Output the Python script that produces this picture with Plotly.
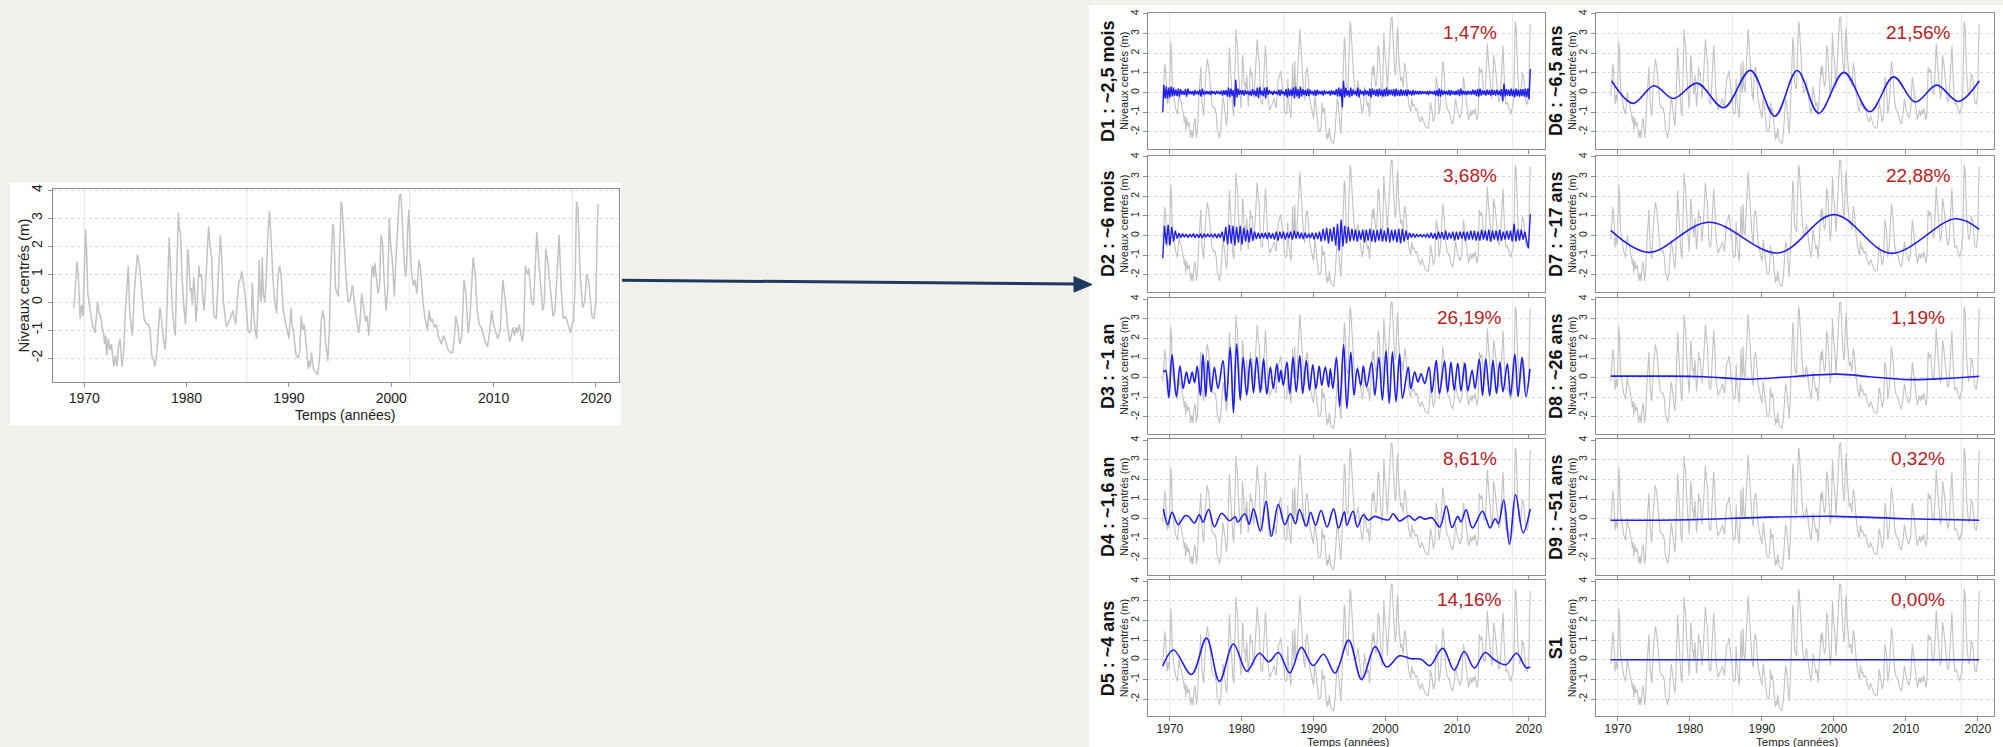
import numpy as np
import plotly.graph_objects as go

W, H = 2003, 747
FONT = "Liberation Sans, Arial, Helvetica, sans-serif"

# ---------------- data ----------------
# Centred groundwater level (m) versus time (decimal years)
raw_t = [1969.0, 1969.15, 1969.3, 1969.45, 1969.6, 1969.75, 1969.9, 1970.05, 1970.12, 1970.22,
         1970.35, 1970.55, 1970.8, 1971.05, 1971.3, 1971.45, 1971.6, 1971.8, 1971.9, 1972.0,
         1972.1, 1972.2, 1972.35, 1972.5, 1972.65, 1972.8, 1972.9, 1973.05, 1973.2, 1973.35,
         1973.5, 1973.7, 1973.85, 1974.0, 1974.15, 1974.3, 1974.45, 1974.7, 1974.9, 1975.05,
         1975.2, 1975.4, 1975.6, 1975.85, 1976.1, 1976.3, 1976.45, 1976.6, 1976.8, 1976.9,
         1977.1, 1977.25, 1977.4, 1977.55, 1977.7, 1977.9, 1978.0, 1978.15, 1978.3, 1978.4,
         1978.5, 1978.6, 1978.75, 1978.9, 1979.0, 1979.1, 1979.2, 1979.3, 1979.4, 1979.55,
         1979.7, 1979.9, 1980.0, 1980.1, 1980.2, 1980.35, 1980.45, 1980.55, 1980.7, 1980.8,
         1980.92, 1981.05, 1981.2, 1981.3, 1981.45, 1981.55, 1981.7, 1981.9, 1982.05, 1982.15,
         1982.3, 1982.45, 1982.6, 1982.7, 1982.9, 1983.05, 1983.2, 1983.3, 1983.45, 1983.6,
         1983.9, 1984.15, 1984.35, 1984.5, 1984.65, 1984.8, 1984.95, 1985.1, 1985.25, 1985.4,
         1985.55, 1985.7, 1985.85, 1986.0, 1986.15, 1986.3, 1986.42, 1986.55, 1986.7, 1986.85,
         1987.0, 1987.1, 1987.2, 1987.3, 1987.4, 1987.5, 1987.65, 1987.8, 1987.95, 1988.1,
         1988.2, 1988.35, 1988.5, 1988.65, 1988.8, 1988.92, 1989.1, 1989.25, 1989.45, 1989.6,
         1989.85, 1990.0, 1990.2, 1990.3, 1990.45, 1990.7, 1990.9, 1991.05, 1991.2, 1991.35,
         1991.5, 1991.7, 1991.9, 1992.0, 1992.1, 1992.2, 1992.4, 1992.6, 1992.8, 1993.0,
         1993.15, 1993.3, 1993.45, 1993.6, 1993.8, 1993.95, 1994.1, 1994.3, 1994.4, 1994.55,
         1994.7, 1994.82, 1994.95, 1995.1, 1995.2, 1995.4, 1995.6, 1995.8, 1996.0, 1996.2,
         1996.4, 1996.6, 1996.8, 1996.95, 1997.1, 1997.3, 1997.5, 1997.65, 1997.8, 1997.95,
         1998.1, 1998.2, 1998.3, 1998.4, 1998.55, 1998.7, 1998.85, 1999.0, 1999.15, 1999.3,
         1999.5, 1999.65, 1999.8, 1999.95, 2000.1, 2000.3, 2000.45, 2000.6, 2000.8, 2000.95,
         2001.1, 2001.25, 2001.4, 2001.5, 2001.6, 2001.72, 2001.85, 2002.0, 2002.15, 2002.3,
         2002.5, 2002.7, 2002.85, 2003.1, 2003.3, 2003.55, 2003.7, 2003.85, 2004.0, 2004.2,
         2004.4, 2004.6, 2004.9, 2005.1, 2005.3, 2005.55, 2005.8, 2006.0, 2006.15, 2006.3,
         2006.5, 2006.7, 2006.9, 2007.1, 2007.3, 2007.5, 2007.7, 2008.0, 2008.2, 2008.4,
         2008.6, 2008.9, 2009.15, 2009.4, 2009.6, 2009.8, 2010.0, 2010.2, 2010.4, 2010.65,
         2010.9, 2011.15, 2011.4, 2011.6, 2011.9, 2012.05, 2012.2, 2012.35, 2012.5, 2012.8,
         2012.95, 2013.1, 2013.3, 2013.45, 2013.7, 2013.9, 2014.1, 2014.22, 2014.4, 2014.6,
         2014.8, 2014.95, 2015.1, 2015.3, 2015.55, 2015.8, 2016.0, 2016.2, 2016.4, 2016.6,
         2016.8, 2017.0, 2017.2, 2017.5, 2017.65, 2017.8, 2017.95, 2018.1, 2018.25, 2018.45,
         2018.7, 2018.9, 2019.1, 2019.3, 2019.45, 2019.6, 2019.8, 2020.0, 2020.1, 2020.2]
raw_v = [-0.2, 0.6, 1.45, 0.8, -0.6, -0.1, -0.5, 1.6, 2.6, 2.0,
         0.3, -0.2, -0.8, -1.1, 0.0, -0.4, -0.5, -1.0, -1.1, -1.5,
         -1.2, -1.9, -1.3, -1.7, -1.5, -2.0, -2.3, -1.9, -2.3, -1.6,
         -1.3, -2.3, -1.8, -0.5, 0.6, 1.3, -0.4, -1.2, 0.4, 1.0,
         1.7, 1.3, 0.5, -0.6, -0.8, -0.8, -1.1, -1.9, -2.1, -2.3,
         -1.8, -1.0, -0.2, -0.6, -1.2, -1.7, -1.2, 0.6, 2.3, 1.5,
         0.7, -0.2, -0.8, -1.2, 0.5, 2.5, 3.2, 2.6, 2.5, 1.0,
         0.0, -0.8, 0.1, 1.9, 1.6, 0.4, 0.5, -0.1, 0.9, 0.4,
         -0.7, 0.0, 1.3, 0.9, 1.0, 0.3, -0.3, 0.9, 1.9, 2.7,
         2.0, 1.6, 0.0, -0.5, -0.6, 0.6, 1.6, 2.4, 1.5, 0.0,
         -0.9, -0.7, -0.5, -0.3, -0.5, -0.8, 0.0, 0.7, 0.8, 1.1,
         0.7, 0.3, -0.3, -1.0, -1.1, -1.0, 0.7, -0.4, -1.0, -1.3,
         0.2, 1.5, 0.2, 0.0, 1.6, 0.3, 0.0, 1.0, 2.5, 3.25,
         2.6, 1.5, 0.5, -0.1, -0.4, 0.9, 1.3, 0.9, -0.3, -0.6,
         -1.0, -1.3, -0.2, -0.8, -1.1, -1.9, -2.0, -1.8, -0.5, -1.0,
         -0.8, -1.7, -2.4, -2.1, -2.3, -1.8, -2.4, -2.5, -2.6, -2.0,
         -0.7, -0.3, -0.6, -1.5, -2.1, -1.0, 1.3, 2.8, 2.5, 0.5,
         0.3, 0.2, 1.9, 3.6, 3.4, 2.0, 0.8, 0.0, 0.1, 0.6,
         -0.1, -0.6, -1.1, -0.7, 0.3, -0.2, -0.7, -0.5, -1.2, -0.4,
         1.2, 1.3, 0.9, 1.4, 0.7, 0.3, 0.6, 2.4, 2.1, 0.8,
         -0.3, 0.4, 3.0, 2.0, 1.5, 0.2, 1.5, 2.6, 3.8, 3.85,
         2.5, 1.5, 0.9, 1.3, 2.6, 3.3, 2.0, 1.0, 0.6, 0.8,
         0.3, 1.5, 1.2, 0.0, -0.6, -1.0, -0.3, -0.7, -0.6, -0.9,
         -0.8, -1.2, -1.5, -1.2, -1.4, -1.7, -1.8, -1.8, -1.3, -0.5,
         -0.9, -1.5, -1.2, 0.8, 0.3, -1.1, -0.5, 1.6, 1.0, -0.3,
         -0.8, -1.0, -1.4, -1.6, -1.1, -0.3, -0.8, -1.1, -1.3, -1.0,
         0.8, 0.0, -1.0, -1.4, -0.9, -1.2, -0.9, -1.1, -0.8, -1.4,
         -1.0, 1.3, 1.0, 1.2, 0.0, -0.1, 1.3, 2.5, 1.5, 0.5,
         -0.3, 0.0, 1.9, 1.4, 0.3, -0.5, -0.3, 1.3, 2.4, 0.5,
         -0.6, -0.5, -0.7, -1.1, -0.8, -0.7, 0.5, 3.6, 3.3, 1.0,
         -0.2, 0.0, 1.0, 0.7, 0.0, -0.5, -0.6, 0.0, 2.3, 3.5]

# D1 (~2.5 months): values every ~2 months, 1969.0 -> 2020.2
d1_v = [-1.0, 0.4, -0.3, 0.3, -0.3, 0.25,
        -0.25, 0.3, -0.2, 0.25, -0.15, 0.15,
        -0.18, 0.2, -0.2, 0.18, -0.1, 0.08,
        -0.12, 0.18, -0.2, 0.2, -0.08, 0.08,
        -0.08, 0.08, -0.15, 0.12, -0.08, 0.08,
        -0.12, 0.15, -0.2, 0.2, -0.12, 0.08,
        -0.08, 0.08, -0.08, 0.08, -0.12, 0.1,
        -0.06, 0.06, -0.1, 0.1, -0.06, 0.06,
        -0.08, 0.1, -0.15, 0.12, -0.12, 0.12,
        -0.2, 0.25, -0.25, 0.2, -0.15, 0.12,
        -0.7, 0.65, -0.25, 0.2, -0.12, 0.12,
        -0.1, 0.12, -0.15, 0.12, -0.08, 0.08,
        -0.12, 0.1, -0.18, 0.18, -0.12, 0.1,
        -0.2, 0.25, -0.28, 0.28, -0.12, 0.1,
        -0.18, 0.25, -0.3, 0.28, -0.12, 0.12,
        -0.06, 0.06, -0.12, 0.1, -0.06, 0.06,
        -0.12, 0.15, -0.18, 0.15, -0.08, 0.06,
        -0.15, 0.18, -0.25, 0.2, -0.18, 0.15,
        -0.18, 0.25, -0.3, 0.3, -0.2, 0.18,
        -0.3, 0.3, -0.2, 0.18, -0.12, 0.12,
        -0.18, 0.2, -0.18, 0.15, -0.08, 0.08,
        -0.15, 0.12, -0.18, 0.15, -0.1, 0.08,
        -0.08, 0.08, -0.15, 0.12, -0.08, 0.06,
        -0.06, 0.08, -0.15, 0.12, -0.1, 0.08,
        -0.12, 0.18, -0.2, 0.25, -0.2, 0.2,
        -0.75, 0.6, -0.25, 0.25, -0.15, 0.12,
        -0.25, 0.25, -0.18, 0.15, -0.1, 0.08,
        -0.18, 0.25, -0.25, 0.15, -0.08, 0.08,
        -0.15, 0.15, -0.1, 0.1, -0.18, 0.2,
        -0.25, 0.2, -0.12, 0.15, -0.18, 0.18,
        -0.2, 0.2, -0.15, 0.12, -0.2, 0.18,
        -0.2, 0.25, -0.18, 0.15, -0.12, 0.15,
        -0.15, 0.18, -0.2, 0.2, -0.15, 0.12,
        -0.18, 0.18, -0.15, 0.12, -0.15, 0.15,
        -0.18, 0.15, -0.1, 0.1, -0.15, 0.12,
        -0.12, 0.1, -0.08, 0.08, -0.1, 0.08,
        -0.08, 0.08, -0.06, 0.06, -0.08, 0.08,
        -0.12, 0.1, -0.06, 0.06, -0.1, 0.1,
        -0.15, 0.12, -0.18, 0.2, -0.2, 0.15,
        -0.12, 0.1, -0.08, 0.08, -0.12, 0.12,
        -0.15, 0.12, -0.1, 0.08, -0.12, 0.1,
        -0.12, 0.15, -0.18, 0.2, -0.12, 0.1,
        -0.1, 0.08, -0.12, 0.1, -0.08, 0.08,
        -0.12, 0.15, -0.1, 0.12, -0.18, 0.18,
        -0.2, 0.2, -0.15, 0.12, -0.1, 0.1,
        -0.15, 0.15, -0.12, 0.12, -0.15, 0.15,
        -0.12, 0.12, -0.15, 0.15, -0.12, 0.1,
        -0.15, 0.18, -0.45, 0.45, -0.2, 0.18,
        -0.15, 0.15, -0.18, 0.2, -0.18, 0.15,
        -0.25, 0.2, -0.18, 0.15, -0.2, 0.18,
        -0.18, 0.18, -0.2, 0.2, -0.25, 0.2,
        -0.35, 1.2]

# D2 (~6 months): values every quarter, 1969.0 -> 2020.2
d2_v = [-1.15, 0.5, -0.45, 0.55,
        -0.5, 0.45, -0.3, 0.25,
        -0.15, 0.12, -0.1, 0.1,
        -0.08, 0.08, -0.1, 0.08,
        -0.08, 0.1, -0.1, 0.08,
        -0.1, 0.1, -0.12, 0.1,
        -0.08, 0.08, -0.06, 0.06,
        -0.08, 0.1, -0.12, 0.1,
        -0.1, 0.2, -0.3, 0.45,
        -0.45, 0.55, -0.4, 0.5,
        -0.5, 0.45, -0.35, 0.5,
        -0.45, 0.4, -0.3, 0.3,
        -0.35, 0.4, -0.25, 0.2,
        -0.18, 0.15, -0.15, 0.12,
        -0.12, 0.15, -0.18, 0.15,
        -0.15, 0.12, -0.2, 0.2,
        -0.25, 0.2, -0.15, 0.2,
        -0.2, 0.15, -0.12, 0.2,
        -0.2, 0.25, -0.15, 0.2,
        -0.15, 0.15, -0.18, 0.15,
        -0.12, 0.1, -0.12, 0.15,
        -0.2, 0.15, -0.18, 0.2,
        -0.3, 0.35, -0.25, 0.4,
        -0.4, 0.35, -0.3, 0.45,
        -0.5, 0.6, -0.75, 0.8,
        -0.55, 0.5, -0.4, 0.45,
        -0.3, 0.35, -0.25, 0.3,
        -0.3, 0.25, -0.2, 0.3,
        -0.35, 0.3, -0.25, 0.35,
        -0.3, 0.3, -0.35, 0.3,
        -0.25, 0.35, -0.3, 0.25,
        -0.3, 0.4, -0.35, 0.3,
        -0.25, 0.3, -0.35, 0.35,
        -0.4, 0.35, -0.3, 0.25,
        -0.2, 0.15, -0.1, 0.1,
        -0.08, 0.06, -0.05, 0.05,
        -0.06, 0.05, -0.08, 0.1,
        -0.12, 0.15, -0.15, 0.12,
        -0.2, 0.2, -0.15, 0.18,
        -0.2, 0.25, -0.2, 0.15,
        -0.15, 0.2, -0.25, 0.2,
        -0.2, 0.2, -0.15, 0.2,
        -0.25, 0.2, -0.2, 0.25,
        -0.2, 0.25, -0.25, 0.2,
        -0.25, 0.3, -0.2, 0.25,
        -0.25, 0.3, -0.3, 0.25,
        -0.2, 0.25, -0.25, 0.3,
        -0.25, 0.2, -0.2, 0.25,
        -0.2, 0.25, -0.3, 0.6,
        -0.3, 0.3, -0.25, 0.3,
        -0.2, 0.2, -0.3, -0.65,
        1.1]

# D3 (~1 year): successive peaks and troughs
d3_t = [1969.1, 1969.4, 1969.85, 1970.3, 1970.9, 1971.4, 1971.85, 1972.3, 1972.7, 1973.1,
        1973.45, 1973.8, 1974.25, 1974.6, 1975.0, 1975.3, 1975.75, 1976.2, 1976.7, 1977.4,
        1977.85, 1978.4, 1978.85, 1979.3, 1979.8, 1980.2, 1980.7, 1981.2, 1981.65, 1982.1,
        1982.6, 1983.05, 1983.5, 1984.0, 1984.4, 1984.9, 1985.2, 1985.45, 1985.8, 1986.3,
        1986.7, 1987.15, 1987.6, 1988.1, 1988.5, 1989.0, 1989.45, 1989.9, 1990.35, 1990.8,
        1991.15, 1991.65, 1992.1, 1992.35, 1992.7, 1993.2, 1993.65, 1994.2, 1994.65, 1995.2,
        1995.65, 1996.1, 1996.6, 1996.95, 1997.4, 1998.1, 1998.55, 1999.1, 1999.6, 2000.1,
        2000.55, 2001.0, 2001.5, 2002.0, 2002.4, 2003.2, 2003.55, 2004.1, 2004.55, 2005.0,
        2005.5, 2006.1, 2006.5, 2007.1, 2007.55, 2008.25, 2008.7, 2009.15, 2009.6, 2010.1,
        2010.55, 2011.1, 2011.5, 2012.1, 2012.5, 2013.1, 2013.55, 2014.0, 2014.55, 2015.0,
        2015.5, 2015.95, 2016.4, 2017.0, 2017.45, 2018.05, 2018.5, 2019.05, 2019.6, 2020.15]
d3_v = [0.28, 0.37, -1.02, 1.17, -0.97, 0.59, -0.55, 0.28, -0.3, 0.28,
        -0.25, 0.58, -0.9, 1.2, -0.97, 0.87, -0.72, 0.53, -0.55, 0.87,
        -1.2, 1.55, -1.78, 1.72, -1.14, 1.04, -0.9, 0.95, -0.77, 1.04,
        -0.75, 0.95, -0.84, 0.54, -0.55, 0.7, -0.22, 0.37, -0.39, 0.79,
        -0.8, 1.04, -0.72, 1.12, -0.8, 0.87, -0.64, 0.65, -0.55, 0.59,
        -0.39, 0.54, -0.47, 0.45, -0.55, 1.04, -1.47, 1.68, -1.56, 1.29,
        -0.9, 0.45, -0.39, 0.59, -0.47, 0.79, -0.9, 1.04, -1.14, 1.37,
        -1.3, 1.32, -1.22, 1.2, -1.05, 0.54, -0.55, 0.28, -0.22, 0.2,
        -0.3, 0.54, -0.75, 0.87, -0.8, 0.84, -0.72, 0.79, -0.64, 0.75,
        -0.67, 0.75, -0.67, 0.37, -0.55, 0.95, -0.9, 0.95, -0.92, 0.87,
        -0.8, 0.79, -0.72, 0.7, -0.9, 1.2, -0.97, 1.04, -0.97, 0.45]

# D4 (~1.6 year)
d4_t = [1969.1, 1969.7, 1970.3, 1971.15, 1972.1, 1972.6, 1973.4, 1974.1, 1974.6, 1975.4,
        1976.2, 1977.2, 1978.3, 1979.1, 1979.45, 1980.45, 1981.05, 1981.65, 1982.6, 1983.4,
        1984.15, 1985.1, 1986.0, 1986.8, 1987.5, 1988.05, 1989.0, 1989.6, 1990.3, 1991.05,
        1991.9, 1992.8, 1993.5, 1994.3, 1994.65, 1995.5, 1996.1, 1996.95, 1997.65, 1998.5,
        1999.5, 2000.5, 2001.1, 2002.0, 2003.3, 2004.1, 2004.8, 2005.5, 2006.5, 2007.6,
        2008.5, 2009.3, 2010.1, 2010.55, 2011.25, 2012.15, 2013.55, 2014.6, 2015.3, 2015.75,
        2016.5, 2017.3, 2018.15, 2019.2, 2020.2]
d4_v = [0.5, -0.3, 0.33, -0.3, 0.15, 0.12, -0.22, 0.2, -0.17, 0.47,
        -0.42, 0.28, -0.1, 0.1, -0.17, 0.25, -0.28, 0.5, -0.63, 0.88,
        -0.9, 0.73, -0.3, 0.25, -0.25, 0.47, -0.38, 0.33, -0.33, 0.42,
        -0.42, 0.5, -0.47, 0.35, -0.33, 0.38, -0.42, 0.2, -0.08, 0.12,
        0.0, -0.05, 0.25, -0.12, 0.15, -0.08, 0.1, -0.02, 0.05, -0.42,
        0.65, -0.45, 0.12, -0.17, 0.45, -0.47, 0.38, -0.47, 0.0, -0.25,
        0.95, -1.3, 1.22, -0.72, 0.5]

# D5 (~4 years)
d5_t = [1969.0, 1970.5, 1973.0, 1975.1, 1976.9, 1978.85, 1980.7, 1982.45, 1983.8, 1985.1,
        1986.7, 1988.3, 1989.95, 1991.4, 1993.0, 1994.9, 1996.7, 1998.6, 2000.2, 2002.0,
        2003.6, 2005.0, 2006.2, 2008.0, 2009.6, 2011.0, 2012.4, 2013.9, 2015.2, 2016.8,
        2018.3, 2019.6, 2020.2]
d5_v = [-0.33, 0.5, -0.75, 1.1, -1.1, 0.8, -0.58, 0.33, -0.1, 0.37,
        -0.67, 0.63, -0.3, 0.28, -0.67, 1.0, -1.0, 0.67, -0.37, 0.2,
        0.05, 0.03, -0.3, 0.58, -0.53, 0.42, -0.42, 0.37, 0.0, -0.25,
        0.33, -0.4, -0.37]

# D6 (~6.5 years)
d6_t = [1969.1, 1972.1, 1975.0, 1977.7, 1981.0, 1984.7, 1988.4, 1991.8, 1994.9, 1997.9,
        2001.4, 2005.0, 2008.3, 2011.3, 2014.3, 2017.3, 2020.2]
d6_v = [0.6, -0.55, 0.35, -0.3, 0.48, -0.77, 1.13, -1.2, 1.12, -1.05,
        1.03, -0.97, 0.8, -0.48, 0.38, -0.45, 0.6]

# D7 (~17 years)
d7_t = [1969.0, 1974.3, 1982.6, 1992.3, 2000.0, 2007.9, 2016.9, 2020.2]
d7_v = [0.27, -0.85, 0.68, -0.88, 1.07, -0.9, 0.86, 0.32]

# D8 (~26 years)
d8_t = [1969.0, 1976.0, 1982.0, 1988.0, 1994.0, 2000.5, 2005.0, 2010.5, 2016.0, 2020.2]
d8_v = [0.08, 0.08, 0.05, -0.08, 0.05, 0.18, 0.05, -0.1, -0.03, 0.07]

# D9 (~51 years)
d9_t = [1969.0, 1980.0, 1990.0, 2000.0, 2010.0, 2020.2]
d9_v = [-0.08, -0.05, 0.07, 0.12, 0.0, -0.08]

# S1 (smooth residual)
s1_t = [1969.0, 2020.2]
s1_v = [0.0, 0.0]

panel_titles = ["D1 : ~2,5 mois", "D2 : ~6 mois", "D3 : ~1 an", "D4 : ~1,6 an", "D5 : ~4 ans",
                "D6 : ~6,5 ans", "D7 : ~17 ans", "D8 : ~26 ans", "D9 : ~51 ans", "S1"]
panel_shares = ["1,47%", "3,68%", "26,19%", "8,61%", "14,16%",
                "21,56%", "22,88%", "1,19%", "0,32%", "0,00%"]

year_ticks = [1970, 1980, 1990, 2000, 2010, 2020]
level_ticks = [-2, -1, 0, 1, 2, 3, 4]
grid_years = [1970, 1985.9, 2001.8, 2017.7]

d1_t = list(np.linspace(1969.0, 2020.2, len(d1_v)))
d2_t = list(np.linspace(1969.0, 2020.2, len(d2_v)))
components = [(d1_t, d1_v), (d2_t, d2_v), (d3_t, d3_v), (d4_t, d4_v), (d5_t, d5_v),
              (d6_t, d6_v), (d7_t, d7_v), (d8_t, d8_v), (d9_t, d9_v), (s1_t, s1_v)]
# the two fastest details are drawn as raw polylines, the others smoothed
line_shapes = ["linear", "linear"] + ["spline"] * 8

# ---------------- layout geometry (pixels) ----------------
X_RANGE = [1966.95, 2022.25]
Y_RANGE = [-2.87, 4.05]
LEFT_BOX = (53, 619, 185, 380)
COL_X = [(1148, 1545), (1596, 1994)]
ROW_TOP = [8, 152, 295, 437, 579]
ROW_H = 137

BOX_COL = "#8c8c8c"
GRAY_LINE = "#c2c2c2"
BLUE = "#1f1fe6"
RED = "#b3221f"


def fx(x):
    return x / W


def fy(y):
    return 1 - y / H


fig = go.Figure()
layout_axes = {}
shapes = []
annotations = []


def add_axes(k, box, show_xlabels, xfont, yfont, label_shift):
    x0, x1, top, bottom = box
    xn = "xaxis" if k == 1 else f"xaxis{k}"
    yn = "yaxis" if k == 1 else f"yaxis{k}"
    xa = "x" if k == 1 else f"x{k}"
    ya = "y" if k == 1 else f"y{k}"
    layout_axes[xn] = dict(
        domain=[fx(x0), fx(x1)], anchor=ya, range=X_RANGE, tickmode="array",
        tickvals=year_ticks, ticktext=[str(v) for v in year_ticks],
        showticklabels=show_xlabels, ticks="outside", ticklen=4, tickcolor=BOX_COL,
        ticklabelstandoff=label_shift,
        showline=True, mirror=True, linecolor=BOX_COL, linewidth=1,
        showgrid=False, zeroline=False, tickfont=dict(family=FONT, size=xfont, color="#222"),
    )
    layout_axes[yn] = dict(
        domain=[fy(bottom), fy(top)], anchor=xa, range=Y_RANGE, tickmode="array",
        tickvals=level_ticks, ticktext=[str(v) for v in level_ticks], tickangle=-90,
        ticks="outside", ticklen=4, tickcolor=BOX_COL,
        showline=True, mirror=True, linecolor=BOX_COL, linewidth=1,
        showgrid=True, griddash="dot", gridcolor="#d9d9d9", gridwidth=1, zeroline=False,
        tickfont=dict(family=FONT, size=yfont, color="#222"),
    )
    for gy in grid_years:
        shapes.append(dict(type="line", xref=xa, yref=f"{ya} domain", x0=gy, x1=gy, y0=0, y1=1,
                           line=dict(color="#e6e6e6", width=1), layer="below"))
    return xa, ya


# background panels
shapes.append(dict(type="rect", xref="paper", yref="paper", x0=fx(10), x1=fx(621), y0=fy(423), y1=fy(179),
                   fillcolor="white", line=dict(width=0), layer="below"))
shapes.append(dict(type="rect", xref="paper", yref="paper", x0=fx(1089), x1=1, y0=0, y1=1,
                   fillcolor="white", line=dict(width=0), layer="below"))

# left: original series
xa, ya = add_axes(1, LEFT_BOX, True, 14, 14, -1)
fig.add_trace(go.Scatter(x=raw_t, y=raw_v, mode="lines", line=dict(color=GRAY_LINE, width=1.5),
                         xaxis=xa, yaxis=ya, showlegend=False, hoverinfo="skip"))
annotations.append(dict(text="Niveaux centrés (m)", x=fx(24), y=fy((LEFT_BOX[2] + LEFT_BOX[3]) / 2),
                        textangle=-90, font=dict(family=FONT, size=15, color="#222")))
annotations.append(dict(text="Temps (années)", x=fx(345), y=fy(413),
                        font=dict(family=FONT, size=14, color="#222")))

# right: decomposition panels
for i, ((ct, cv), title, share) in enumerate(zip(components, panel_titles, panel_shares)):
    col, row = divmod(i, 5)
    x0, x1 = COL_X[col]
    top = ROW_TOP[row]
    box = (x0, x1, top, top + ROW_H)
    xa, ya = add_axes(i + 2, box, row == 4, 12, 10.5, -3)
    fig.add_trace(go.Scatter(x=raw_t, y=raw_v, mode="lines", line=dict(color=GRAY_LINE, width=1.1),
                             xaxis=xa, yaxis=ya, showlegend=False, hoverinfo="skip"))
    width = 1.4 if i < 2 else 1.6
    fig.add_trace(go.Scatter(x=ct, y=cv, mode="lines",
                             line=dict(color=BLUE, width=width, shape=line_shapes[i]),
                             xaxis=xa, yaxis=ya, showlegend=False, hoverinfo="skip"))
    cy = top + ROW_H / 2
    annotations.append(dict(text=f"<b>{title}</b>", x=fx(x0 - 40), y=fy(cy), textangle=-90,
                            font=dict(family=FONT, size=18, color="#111")))
    annotations.append(dict(text="Niveaux centrés (m)", x=fx(x0 - 24), y=fy(cy), textangle=-90,
                            font=dict(family=FONT, size=11, color="#222")))
    annotations.append(dict(text=share, x=fx(x0 + 0.81 * (x1 - x0)), y=fy(top + 20),
                            font=dict(family=FONT, size=19, color=RED)))
    if row == 4:
        annotations.append(dict(text="Temps (années)", x=fx((x0 + x1) / 2 + 2), y=fy(742),
                                font=dict(family=FONT, size=11.5, color="#222")))

for a in annotations:
    a.update(xref="paper", yref="paper", showarrow=False, xanchor="center", yanchor="middle")

# arrow from the original series to the decomposition
shapes.append(dict(type="line", xref="paper", yref="paper", x0=fx(622), y0=fy(277), x1=fx(1077), y1=fy(281),
                   line=dict(color="#1b3a5e", width=3)))
shapes.append(dict(type="path", xref="paper", yref="paper",
                   path=f"M {fx(1092)} {fy(281.5)} L {fx(1074)} {fy(273.5)} L {fx(1074)} {fy(289)} Z",
                   fillcolor="#1b3a5e", line=dict(color="#1b3a5e", width=1)))

fig.update_layout(
    width=W, height=H, margin=dict(l=0, r=0, t=0, b=0),
    paper_bgcolor="#f2f0eb", plot_bgcolor="white",
    font=dict(family=FONT), showlegend=False,
    shapes=shapes, annotations=annotations, **layout_axes,
)

fig.write_html("out.html")
